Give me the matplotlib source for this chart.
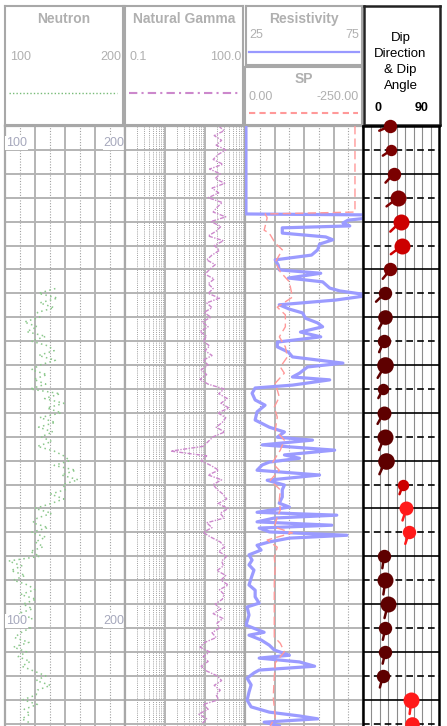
import numpy as np
import matplotlib
matplotlib.use('Agg')
import matplotlib.pyplot as plt

plt.rcParams['font.family'] = ['Liberation Sans', 'DejaVu Sans']

# ---------------- data (depth in m below top of section) ----------------
gamma_depth = np.arange(0, 126)
gamma = [22, 30, 17, 26, 19, 33, 21, 16, 28,
         13, 24, 18, 31, 15, 22, 12, 27, 20, 16, 33, 14, 25, 19, 12, 29, 17, 23,
         15, 11, 18, 13, 10, 17, 12, 16,
         12, 23, 11, 15, 9.5, 14,
         8.5, 12, 7.5, 11, 9,
         13, 10, 15, 9, 12,
         8, 11, 7.5, 12,
         30, 22, 36, 25, 40, 21, 33, 27, 19, 31,
         16, 12,
         9, 1.4, 11, 8,
         14, 22, 12, 26, 16, 20,
         28, 35, 21, 38, 24, 30,
         11, 15, 9, 14,
         24, 31, 22, 35, 26, 29, 20, 33, 25, 38, 23, 30, 27,
         18, 25, 16, 28, 20, 23, 15, 19,
         10, 7.5, 13, 9, 12, 8, 11,
         20, 26, 17, 24, 19, 22,
         9, 12, 7, 11, 8.5]

neutron_depth = np.arange(34, 126)
neutron = [142, 128, 144, 129, 141, 127,
           129, 116, 127, 118,
           134, 122, 136,
           141, 128, 142, 129,
           122, 135, 124, 134, 121,
           146, 133, 149, 135, 147,
           129, 142, 128, 140, 130,
           139, 127, 141,
           149, 154, 141,
           159, 147, 161, 148,
           151, 138, 149,
           138, 125, 139, 127,
           123, 136, 122, 134, 125,
           132, 121, 129,
           103, 114, 105,
           117, 107, 119,
           125, 113, 126, 115, 123,
           111, 123, 110, 121, 113,
           108, 120, 107, 118, 111,
           121, 114, 124,
           134, 126, 138, 127,
           126, 115, 127, 116,
           121, 114, 122]

res_depth = [0, 18.4, 18.6, 19.2, 19.7, 20.3, 20.9, 21.3, 22.4, 23.2, 23.8, 24.7,
             25.9, 27.0, 28.0, 29.1, 30.1, 30.8, 31.8, 32.6, 33.9, 34.5, 35.4,
             36.4, 37.4, 38.3, 39.1, 40.2, 41.2, 42.0, 43.1, 44.1, 45.2, 46.2,
             47.3, 48.3, 49.6, 50.4, 51.7, 52.5, 53.1, 54.2, 54.8, 55.9, 57.3,
             58.4, 59.8, 61.5, 63.0, 64.0, 65.1, 65.7, 66.7, 67.8, 68.8, 69.5,
             70.3, 70.9, 72.0, 73.0, 74.1, 75.1, 76.1, 77.6, 78.9, 79.7, 80.8,
             81.4, 82.0, 82.8, 83.5, 84.1, 84.9, 85.6, 86.2, 87.0, 87.7, 88.7,
             89.7, 90.8, 91.8, 92.9, 94.6, 96.0, 97.1, 98.5, 99.8, 100.6, 102.3,
             104.4, 105.9, 106.5, 107.5, 108.6, 109.6, 110.7, 111.3, 112.1,
             113.0, 113.8, 114.4, 115.5, 116.9, 118.4, 120.1, 121.5, 122.6,
             123.4, 124.0, 124.7, 125.5]
res = [25.4, 25.4, 78, 78, 68.6, 66.5, 69.4, 40.8, 40.8, 59.2, 62.2, 56.6,
       55.8, 53.2, 37.8, 39.1, 39.5, 57.1, 43.4, 57.9, 60.9, 65.2, 78,
       63.5, 39.5, 43.8, 49.4, 50.6, 55.8, 57.9, 48.5, 57.1, 38.7, 38.7,
       43.4, 45.1, 66.5, 51.5, 48.1, 45.1, 60.9, 45.1, 29.3, 28.0, 29.3,
       33.5, 30.1, 29.3, 35.3, 41.7, 38.7, 53.6, 32.3, 63.0, 41.7, 48.1,
       35.3, 32.3, 30.1, 56.6, 34.4, 41.7, 40.8, 40.8, 39.5, 43.8, 30.1,
       63.9, 37.4, 30.1, 61.8, 31.0, 35.3, 68.2, 43.8, 35.3, 30.1, 31.8,
       26.7, 28.0, 26.7, 28.8, 27.6, 26.7, 29.3, 29.3, 31.0, 25.9, 26.7,
       25.4, 33.1, 26.7, 31.8, 35.3, 37.4, 43.8, 31.0, 48.1,
       54.5, 31.0, 28.8, 25.9, 27.6, 26.7, 25.9, 27.6, 35.3,
       48.1, 55.8, 33.1, 39.5]

sp_depth = [0, 18.0, 18.4, 19.2, 21.8, 22.4, 24.5, 25.9, 28.5, 30.5, 32.6, 35.8,
            37.9, 39.5, 42.0, 44.1, 46.2, 48.3, 50.4, 51.7, 53.8, 55.2, 56.7,
            58.8, 60.9, 63.6, 65.7, 67.8, 70.5, 72.0, 74.1, 76.1, 78.2, 80.3,
            81.8, 83.9, 85.1, 86.6, 88.1, 90.2, 92.3, 95.6, 98.5, 101.9, 106.9,
            108.2, 110.0, 112.3, 115.3, 119.5, 123.6, 125.5]
sp = [-233, -233, -42.7, -47, -40.6, -51.3, -64.1, -79.1, -64.1, -74.8, -94, -100.4,
      -68.4, -85.5, -85.5, -72.7, -85.5, -89.8, -74.8, -83.3, -64.1, -68.4, -72.7,
      -62, -68.4, -64.1, -83.3, -74.8, -57.7, -72.7, -53.4, -74.8, -72.7, -74.8,
      -68.4, -62, -100.4, -47, -68.4, -62, -64.1, -62, -62, -62, -62,
      -74.8, -83.3, -64.1, -62, -59.8, -64.1, -53.4]

dip_depth = np.arange(0, 126, 5)
dip_angle = [32.4, 33.6, 36.4, 41.5, 44.6, 46.6, 32.4, 25.7, 26.5, 24.9, 26.5,
             23.7, 24.5, 25.7, 26.9, 47.4, 51.4, 54.5, 24.9, 26.5, 29.6, 26.5,
             26.5, 23.7, 57.3, 58.5]
dip_azimuth = [247, 236, 223, 233, 226, 233, 219, 226, 210, 204, 211, 207, 209,
               203, 205, 200, 198, 198, 188, 188, 194, 192, 193, 195, 187, 190]
dip_radius = [6.7, 5.7, 6.7, 8, 8, 8, 6.7, 6.7, 7.3, 6.7, 8.3, 5.7, 7, 8, 8.3,
              5.7, 7, 6.7, 6.7, 8, 8, 6.7, 6.7, 6.7, 8, 7.3]
dip_color = ['#7a0000', '#7a0000', '#7a0000', '#800000', '#cc0000', '#cc0000',
             '#7a0000', '#5e0000', '#5e0000', '#5e0000', '#5e0000', '#5e0000',
             '#5e0000', '#5e0000', '#5e0000', '#cc0000', '#ff1a1a', '#ff1a1a',
             '#5e0000', '#5e0000', '#5e0000', '#5e0000', '#5e0000', '#5e0000',
             '#ff1a1a', '#ff1a1a']

W, H = 447, 726
fig = plt.figure(figsize=(W / 100, H / 100), dpi=100)

GRID = '#b4b4b4'
MINOR = '#a0a0a0'
TXT = '#b0b0b0'


def fr(x0, y0, x1, y1):
    # pixel box -> figure fraction rect
    return [x0 / W, 1 - y1 / H, (x1 - x0) / W, (y1 - y0) / H]


def header(rect, edge, lw):
    ax = fig.add_axes(rect)
    ax.set_xlim(0, 1)
    ax.set_ylim(0, 1)
    ax.set_xticks([])
    ax.set_yticks([])
    for s in ax.spines.values():
        s.set_color(edge)
        s.set_linewidth(lw)
    return ax


# ---------------- header boxes ----------------
h = header(fr(5, 6, 123, 125), '#a8a8a8', 1.5)
h.text(0.5, 0.89, 'Neutron', ha='center', va='center', fontsize=10, weight='bold', color=TXT)
h.text(0.04, 0.57, '100', ha='left', va='center', fontsize=9, color=TXT)
h.text(0.985, 0.57, '200', ha='right', va='center', fontsize=9, color=TXT)
h.plot([0.03, 0.95], [0.27, 0.27], color='#77bb77', lw=1, ls=(0, (1, 1.5)))

h = header(fr(125, 6, 243, 125), '#a8a8a8', 1.5)
h.text(0.5, 0.89, 'Natural Gamma', ha='center', va='center', fontsize=10, weight='bold', color=TXT)
h.text(0.04, 0.57, '0.1', ha='left', va='center', fontsize=9, color=TXT)
h.text(0.985, 0.57, '100.0', ha='right', va='center', fontsize=9, color=TXT)
h.plot([0.03, 0.97], [0.27, 0.27], color='#cc88cc', lw=1.5, ls=(0, (4, 2, 1, 2)))

h = header(fr(246, 6, 362, 65), '#a8a8a8', 1.5)
h.text(0.5, 0.78, 'Resistivity', ha='center', va='center', fontsize=10, weight='bold', color=TXT)
h.text(0.03, 0.5, '25', ha='left', va='center', fontsize=9, color=TXT)
h.text(0.975, 0.5, '75', ha='right', va='center', fontsize=9, color=TXT)
h.plot([0.03, 0.97], [0.22, 0.22], color='#9999ff', lw=1.6)

h = header(fr(245, 67, 362, 125), '#a8a8a8', 1.5)
h.text(0.5, 0.79, 'SP', ha='center', va='center', fontsize=10, weight='bold', color=TXT)
h.text(0.03, 0.48, '0.00', ha='left', va='center', fontsize=9, color=TXT)
h.text(0.975, 0.48, '-250.00', ha='right', va='center', fontsize=9, color=TXT)
h.plot([0.03, 0.97], [0.2, 0.2], color='#ff9999', lw=1.5, ls=(0, (3, 2)))

h = header(fr(364, 6, 440, 125), '#222222', 1.8)
h.text(0.48, 0.53, 'Dip\nDirection\n& Dip\nAngle', ha='center', va='center',
       fontsize=9.5, linespacing=1.45, color='black')
h.text(0.18, 0.14, '0', ha='center', va='center', fontsize=9, weight='bold')
h.text(0.76, 0.14, '90', ha='center', va='center', fontsize=9, weight='bold')

# ---------------- tracks ----------------
TOP = 126
ax_neu = fig.add_axes(fr(5, TOP, 125, H))
ax_gr = fig.add_axes(fr(125, TOP, 245, H))
ax_res = fig.add_axes(fr(245, TOP, 363, H))
ax_dip = fig.add_axes(fr(363, TOP, 439, H))

depth_grid = np.arange(0, 126, 5)
for ax in (ax_neu, ax_gr, ax_res, ax_dip):
    ax.set_ylim(125.5, 0)
    ax.set_yticks(depth_grid)
    ax.tick_params(which='both', left=False, bottom=False, top=False, right=False,
                   labelleft=False, labelbottom=False)
    ax.spines['bottom'].set_visible(False)

for ax in (ax_neu, ax_gr, ax_res):
    for s in ('left', 'right', 'top'):
        ax.spines[s].set_color('#a8a8a8')
        ax.spines[s].set_linewidth(1.6)
    ax.grid(axis='y', which='major', color=GRID, lw=1.4)

# neutron track
ax_neu.set_xlim(100, 200)
ax_neu.set_xticks([125, 150, 175])
ax_neu.set_xticks([112.5, 137.5, 162.5, 187.5], minor=True)
ax_neu.grid(axis='x', which='major', color=GRID, lw=1.4)
ax_neu.grid(axis='x', which='minor', color=MINOR, lw=0.8, ls=(0, (1, 1.5)))
ax_neu.plot(neutron, neutron_depth, color='#8cc88c', lw=1.1, ls=(0, (1, 2.2)))
for d in (5, 105):
    ax_neu.text(101, d - 0.2, '100', ha='left', va='bottom', fontsize=9, color='#a6a8bc',
                bbox=dict(facecolor='white', edgecolor='none', pad=0.5))
    ax_neu.text(199.5, d - 0.2, '200', ha='right', va='bottom', fontsize=9, color='#a6a8bc',
                bbox=dict(facecolor='white', edgecolor='none', pad=0.5))

# natural gamma track (log)
ax_gr.set_xscale('log')
ax_gr.set_xlim(0.1, 100)
ax_gr.set_xticks([1, 10])
ax_gr.set_xticks([m * 10.0 ** e for e in (-1, 0, 1) for m in range(2, 10)], minor=True)
ax_gr.tick_params(which='both', bottom=False, labelbottom=False)
ax_gr.grid(axis='x', which='major', color=GRID, lw=1.4)
ax_gr.grid(axis='x', which='minor', color=MINOR, lw=0.7, ls=(0, (1, 1.2)))
ax_gr.plot(gamma, gamma_depth, color='#cc88cc', lw=1, ls=(0, (3, 1, 1, 1)))

# resistivity + SP track
ax_res.set_xlim(25, 75)
ax_res.set_xticks([37.5, 50, 62.5])
ax_res.set_xticks([31.25, 43.75, 56.25, 68.75], minor=True)
ax_res.grid(axis='x', which='major', color=GRID, lw=1.4)
ax_res.grid(axis='x', which='minor', color=MINOR, lw=0.8, ls=(0, (1, 1.5)))
ax_res.plot(res, res_depth, color='#9b9bff', lw=2.3, zorder=3)
ax_sp = ax_res.twiny()
ax_sp.set_xlim(0, -250)
ax_sp.set_ylim(125.5, 0)
ax_sp.axis('off')
ax_sp.plot(sp, sp_depth, color='#ff9999', lw=1, ls=(0, (6, 3)), zorder=4)

# dip track
ax_dip.set_xlim(0, 90)
ax_dip.set_yticks([])
for s in ('left', 'right', 'top'):
    ax_dip.spines[s].set_color('black')
    ax_dip.spines[s].set_linewidth(1.8)
for v in range(10, 90, 10):
    ax_dip.axvline(v, color='#8c8c8c', lw=0.8, zorder=0)
for i, d in enumerate(depth_grid):
    ax_dip.axhline(d, color='black', lw=1.2, zorder=1,
                   ls='-' if i % 2 == 0 else (0, (4, 2.5)))

for a, d, az, r, c in zip(dip_angle, dip_depth, dip_azimuth, dip_radius, dip_color):
    L = r * 1.8 * 0.72
    dx = L * np.sin(np.radians(az))
    dy = L * np.cos(np.radians(az))
    ax_dip.annotate('', xy=(a, d), xytext=(dx, dy), textcoords='offset points',
                    arrowprops=dict(arrowstyle='-', color=c, lw=1.8, shrinkA=0, shrinkB=0),
                    annotation_clip=False, zorder=5)
    ax_dip.scatter([a], [d], s=(2 * r * 0.72) ** 2, color=c, zorder=6, clip_on=False,
                   linewidths=0)

fig.savefig('out.png', dpi=100)
